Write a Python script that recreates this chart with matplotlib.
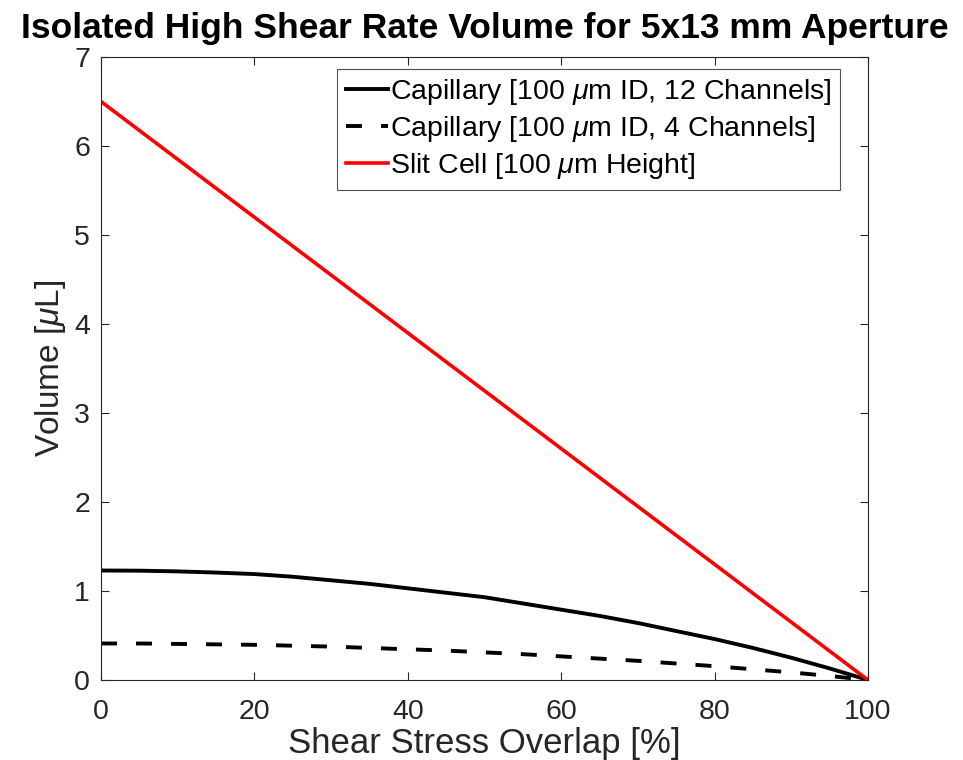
import numpy as np
import matplotlib.pyplot as plt

# overlap [%] and high-shear volume [uL]
overlap = [0, 5, 10, 15, 20, 25, 30, 35, 40, 45, 50,
           55, 60, 65, 70, 75, 80, 85, 90, 95, 100]
cap12 = [1.23, 1.228, 1.22, 1.207, 1.19, 1.16, 1.12, 1.08, 1.03, 0.98, 0.93,
         0.86, 0.79, 0.72, 0.64, 0.55, 0.46, 0.36, 0.25, 0.13, 0.0]
cap4 = [0.41, 0.41, 0.405, 0.40, 0.395, 0.385, 0.375, 0.36, 0.345, 0.33, 0.31,
        0.29, 0.265, 0.24, 0.215, 0.185, 0.155, 0.12, 0.085, 0.045, 0.0]
slit_x = [0, 100]
slit = [6.5, 0.0]

plt.rcParams['font.family'] = ['Liberation Sans', 'DejaVu Sans']
plt.rcParams['mathtext.fontset'] = 'custom'
plt.rcParams['mathtext.it'] = 'Liberation Sans:italic'
plt.rcParams['mathtext.rm'] = 'Liberation Sans'

fig = plt.figure(figsize=(9.63, 7.6), dpi=100)
ax = fig.add_axes([0.1049, 0.1053, 0.7964, 0.8197])

ax.plot(overlap, cap12, color='k', lw=2.8, label=r'Capillary [100 $\mu$m ID, 12 Channels]')
ax.plot(overlap, cap4, color='k', lw=2.8, dashes=(4.1, 4.9), dash_capstyle='butt',
        label=r'Capillary [100 $\mu$m ID, 4 Channels]')
ax.plot(slit_x, slit, color='#ff0000', lw=2.6, label=r'Slit Cell [100 $\mu$m Height]')

ax.set_xlim(0, 100)
ax.set_ylim(0, 7)
ax.set_xticks(np.arange(0, 101, 20))
ax.set_yticks(np.arange(0, 8, 1))
ax.tick_params(direction='in', top=True, right=True, length=6, width=0.8,
               labelsize=20.5, colors='#262626')
ax.tick_params(axis='x', pad=14)
ax.tick_params(axis='y', pad=8)
for s in ax.spines.values():
    s.set_color('#262626')
    s.set_linewidth(0.8)

ax.set_xlabel('Shear Stress Overlap [%]', fontsize=25, color='#262626', labelpad=1)
ax.set_ylabel(r'Volume [$\mu$L]', fontsize=24, color='#262626', labelpad=4)
ax.set_title('Isolated High Shear Rate Volume for 5x13 mm Aperture',
             fontsize=25.5, fontweight='bold', pad=14)

leg = ax.legend(loc='upper right', bbox_to_anchor=(0.9635, 0.981), fontsize=20.5,
                frameon=True, fancybox=False, edgecolor='#262626', handlelength=1.47,
                handletextpad=0.07, borderpad=0.3, labelspacing=0.24, borderaxespad=0)
leg.get_frame().set_linewidth(0.8)

fig.savefig('out.png', dpi=100)
